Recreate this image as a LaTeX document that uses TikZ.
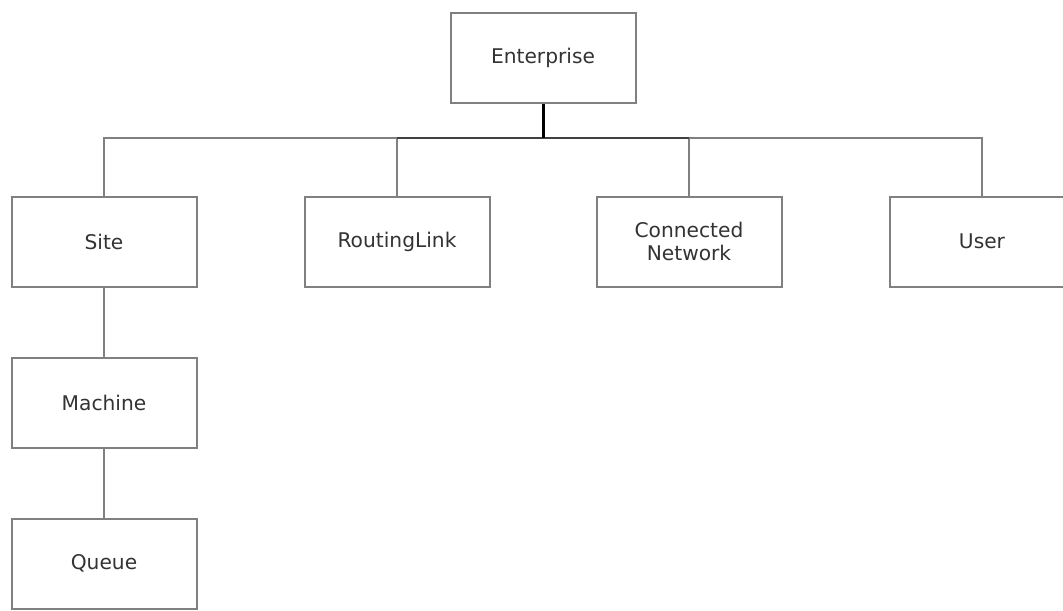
\documentclass[tikz,border=0pt]{standalone}
\usepackage{fontspec}
\setmainfont{DejaVu Sans}
\usepackage{tikz}

\definecolor{boxgray}{HTML}{808080}
\definecolor{busdark}{HTML}{404040}
\definecolor{labelgray}{HTML}{333333}

\tikzset{
  entity/.style={draw=boxgray, line width=0.04cm, fill=white, minimum width=3.7cm, minimum height=1.8cm,
    align=center, text=labelgray, font=\fontsize{11.5}{13.5}\selectfont, inner sep=0pt},
  link/.style={draw=boxgray, line width=0.04cm},
  midlink/.style={draw=busdark, line width=0.04cm},
  stub/.style={draw=black, line width=0.06cm}
}

\begin{document}
\begin{tikzpicture}
\useasboundingbox (0,0) rectangle (21.26,-12.2);

% Top level
\node[entity] (enterprise) at (10.86,-1.16) {Enterprise};
\coordinate (hub) at (10.86,-2.76);

% Second level
\node[entity] (site) at (2.08,-4.83) {Site};
\node[entity] (routing) at (7.94,-4.83) {RoutingLink};
\node[entity] (connected) at (13.78,-4.83) {Connected\\Network};
\node[entity] (user) at (19.64,-4.83) {User};

% Site branch
\node[entity] (machine) at (2.08,-8.06) {Machine};
\node[entity] (queue) at (2.08,-11.27) {Queue};

% Bus
\draw[link] (site.north) |- (hub);
\draw[link] (user.north) |- (hub);
\draw[link] (routing.north) -- (routing.north |- hub);
\draw[link] (connected.north) -- (connected.north |- hub);
\draw[midlink] (routing.north |- hub) -- (connected.north |- hub);
\draw[stub] (enterprise.south) -- (hub);

% Chain below Site
\draw[link] (site.south) -- (machine.north);
\draw[link] (machine.south) -- (queue.north);

\end{tikzpicture}
\end{document}
